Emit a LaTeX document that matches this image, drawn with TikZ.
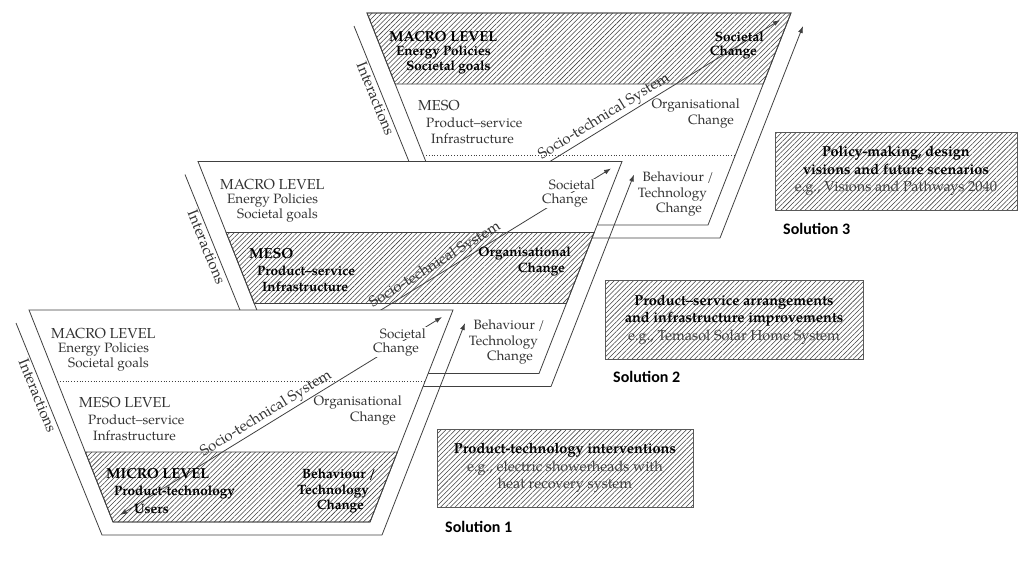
\documentclass[tikz,border=0pt]{standalone}
\usepackage{fontspec}
\setmainfont{TeX Gyre Pagella}
\newfontfamily\tagfont{Carlito}
\usetikzlibrary{calc,patterns.meta,arrows.meta}

\tikzset{
  rim/.style={draw=black!75, line width=0.8pt},
  hatch/.style={pattern={Lines[angle=45,distance=3.4pt,line width=0.55pt]}, pattern color=black!75},
  arr/.style={-{Latex[length=7pt,width=5pt]}},
  txt/.style={font=\fontsize{13.5}{15}\selectfont, text=black!80, inner sep=1pt},
  txtb/.style={font=\fontsize{13.5}{15}\selectfont\bfseries, text=black, inner sep=1pt},
  lvl/.style={font=\fontsize{14.5}{16}\selectfont, text=black!80, inner sep=1pt},
  lvlb/.style={font=\fontsize{14.5}{16}\selectfont\bfseries, text=black, inner sep=1pt},
  side/.style={font=\fontsize{15}{16}\selectfont, text=black!80, inner sep=1.5pt},
  solbox/.style={draw=black!65, line width=0.8pt, hatch, align=center, inner sep=0pt,
    font=\fontsize{14.5}{17.5}\selectfont, text=black!75},
  soltag/.style={font=\tagfont\fontsize{16}{18}\selectfont\bfseries, anchor=base west, inner sep=0pt}
}

\begin{document}
\begin{tikzpicture}[x=1pt,y=-1pt]

\useasboundingbox (0,0) rectangle (1026,568);

% terza soluzione (dietro)
\begin{scope}[shift={(367,13)}]
\coordinate (a3) at (0,0);
\coordinate (b3) at (424,0);
\coordinate (c3) at (341,212);
\coordinate (d3) at (84,212);
\coordinate (e3) at (-13,13);
\coordinate (f3) at (73,225);
\coordinate (g3) at (353,225);
\coordinate (h3) at (436,13);
\coordinate (u3) at (91,205);
\coordinate (s3) at (413,7);
\coordinate (m3) at ($(a3)!.335!(d3)$);
\coordinate (n3) at ($(b3)!.335!(c3)$);
\coordinate (k3) at ($(a3)!.67!(d3)$);
\coordinate (l3) at ($(b3)!.67!(c3)$);

\draw[rim] (e3) -- (f3) node[side, sloped, below, pos=.33] {Interactions} -- (g3);
\draw[rim, arr] (g3) -- (h3);
\draw[rim, fill=white] (a3) -- (b3) -- (c3) -- (d3) -- cycle;
\draw[rim, hatch] (a3) -- (b3) -- (n3) -- (m3) -- cycle;
\draw[rim, dotted] (k3) -- (l3);
\draw[rim, arr] (u3) -- (s3) node[side, sloped, above, pos=.47] {Socio-technical System};

\node[lvlb, anchor=base west] (mac3) at (21,28) {MACRO LEVEL};
\node[txtb, anchor=base west] (enp3) at (28,42) {Energy Policies};
\node[txtb, anchor=base west] (sog3) at (38,57) {Societal goals};
\node[lvl, anchor=base west] (mes3) at (50,97) {MESO};
\node[txt, anchor=base west] (prs3) at (58,114) {Product--service};
\node[txt, anchor=base west] (inf3) at (63,130) {Infrastructure};
\node[txtb, anchor=base east] (soc3) at (398,28) {Societal};
\node[txtb, anchor=base east] (chs3) at (391,42) {Change};
\node[txt, anchor=base east] (org3) at (374,95) {Organisational};
\node[txt, anchor=base east] (cho3) at (368,111) {Change};
\node[txt, anchor=base east] (beh3) at (348,168) {Behaviour /};
\node[txt, anchor=base east] (tec3) at (341,184) {Technology};
\node[txt, anchor=base east] (chb3) at (336,199) {Change};
\end{scope}

% seconda soluzione
\begin{scope}[shift={(198,161.5)}]
\coordinate (a2) at (0,0);
\coordinate (b2) at (424,0);
\coordinate (c2) at (341,212);
\coordinate (d2) at (84,212);
\coordinate (e2) at (-13,13);
\coordinate (f2) at (73,225);
\coordinate (g2) at (353,225);
\coordinate (h2) at (436,13);
\coordinate (u2) at (91,205);
\coordinate (s2) at (413,7);
\coordinate (m2) at ($(a2)!.335!(d2)$);
\coordinate (n2) at ($(b2)!.335!(c2)$);
\coordinate (k2) at ($(a2)!.67!(d2)$);
\coordinate (l2) at ($(b2)!.67!(c2)$);

\draw[rim] (e2) -- (f2) node[side, sloped, below, pos=.33] {Interactions} -- (g2);
\draw[rim, arr] (g2) -- (h2);
\draw[rim, fill=white] (a2) -- (b2) -- (c2) -- (d2) -- cycle;
\draw[rim, hatch] (m2) -- (n2) -- (l2) -- (k2) -- cycle;
\draw[rim, arr] (u2) -- (s2) node[side, sloped, above, pos=.47] {Socio-technical System};

\node[lvl, anchor=base west] (mac2) at (21,28) {MACRO LEVEL};
\node[txt, anchor=base west] (enp2) at (28,42) {Energy Policies};
\node[txt, anchor=base west] (sog2) at (38,57) {Societal goals};
\node[lvlb, anchor=base west] (mes2) at (50,97) {MESO};
\node[txtb, anchor=base west] (prs2) at (58,114) {Product--service};
\node[txtb, anchor=base west] (inf2) at (63,130) {Infrastructure};
\node[txt, anchor=base east, fill=white] (soc2) at (398,28) {Societal};
\node[txt, anchor=base east, fill=white] (chs2) at (391,42) {Change};
\node[txtb, anchor=base east] (org2) at (374,95) {Organisational};
\node[txtb, anchor=base east] (cho2) at (368,111) {Change};
\node[txt, anchor=base east] (beh2) at (348,168) {Behaviour /};
\node[txt, anchor=base east] (tec2) at (341,184) {Technology};
\node[txt, anchor=base east] (chb2) at (336,199) {Change};
\end{scope}

% prima soluzione (davanti)
\begin{scope}[shift={(29,310)}]
\coordinate (a1) at (0,0);
\coordinate (b1) at (424,0);
\coordinate (c1) at (341,212);
\coordinate (d1) at (84,212);
\coordinate (e1) at (-13,13);
\coordinate (f1) at (73,225);
\coordinate (g1) at (353,225);
\coordinate (h1) at (436,13);
\coordinate (u1) at (91,205);
\coordinate (s1) at (413,7);
\coordinate (m1) at ($(a1)!.335!(d1)$);
\coordinate (n1) at ($(b1)!.335!(c1)$);
\coordinate (k1) at ($(a1)!.67!(d1)$);
\coordinate (l1) at ($(b1)!.67!(c1)$);

\draw[rim] (e1) -- (f1) node[side, sloped, below, pos=.33] {Interactions} -- (g1);
\draw[rim, arr] (g1) -- (h1);
\draw[rim, fill=white] (a1) -- (b1) -- (c1) -- (d1) -- cycle;
\draw[rim, hatch] (k1) -- (l1) -- (c1) -- (d1) -- cycle;
\draw[rim, dotted] (m1) -- (n1);
\draw[rim, {Latex[length=7pt,width=5pt]}-{Latex[length=7pt,width=5pt]}] (u1) -- (s1)
  node[side, sloped, above, pos=.47] {Socio-technical System};

\node[lvl, anchor=base west] (mac1) at (21,28) {MACRO LEVEL};
\node[txt, anchor=base west] (enp1) at (28,42) {Energy Policies};
\node[txt, anchor=base west] (sog1) at (38,57) {Societal goals};
\node[lvl, anchor=base west] (mes1) at (49,97) {MESO LEVEL};
\node[txt, anchor=base west] (prs1) at (58,114) {Product--service};
\node[txt, anchor=base west] (inf1) at (63,130) {Infrastructure};
\node[lvlb, anchor=base west] (mic1) at (76,168) {MICRO LEVEL};
\node[txtb, anchor=base west] (prt1) at (84,185) {Product-technology};
\node[txtb, anchor=base west] (usr1) at (104,203) {Users};
\node[txt, anchor=base east, fill=white] (soc1) at (398,28) {Societal};
\node[txt, anchor=base east, fill=white] (chs1) at (391,42) {Change};
\node[txt, anchor=base east] (org1) at (374,95) {Organisational};
\node[txt, anchor=base east] (cho1) at (368,111) {Change};
\node[txtb, anchor=base east] (beh1) at (348,168) {Behaviour /};
\node[txtb, anchor=base east] (tec1) at (341,184) {Technology};
\node[txtb, anchor=base east] (chb1) at (336,199) {Change};
\end{scope}

% riquadri delle soluzioni
\node[solbox, minimum width=256pt, minimum height=78pt] (box1) at (565,468)
  {\textbf{\color{black}Product-technology interventions}\\e.g., electric showerheads with\\heat recovery system};
\node[solbox, minimum width=258pt, minimum height=79pt] (box2) at (734,319.5)
  {\textbf{\color{black}Product--service arrangements}\\\textbf{\color{black}and infrastructure improvements}\\e.g., Temasol Solar Home System};
\node[solbox, minimum width=242pt, minimum height=78pt] (box3) at (896,171)
  {\textbf{\color{black}Policy-making, design}\\\textbf{\color{black}visions and future scenarios}\\e.g., Visions and Pathways 2040};

\node[soltag] (tag1) at (445,532) {Solution 1};
\node[soltag] (tag2) at (613,382) {Solution 2};
\node[soltag] (tag3) at (783,234) {Solution 3};

\end{tikzpicture}
\end{document}
